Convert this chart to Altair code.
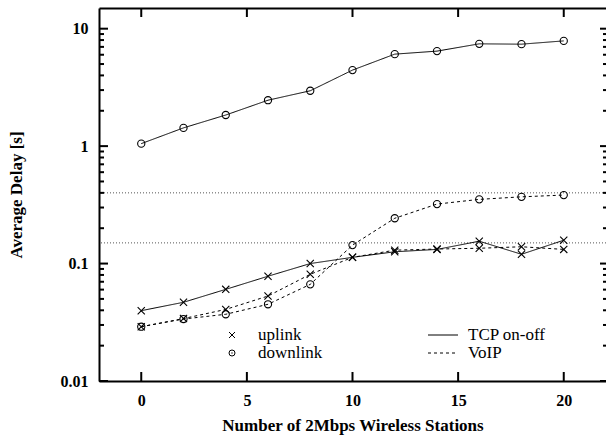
import altair as alt
import pandas as pd

# Number of 2 Mbps wireless stations
stations = [0, 2, 4, 6, 8, 10, 12, 14, 16, 18, 20]

# Average delay [s] per traffic type and direction
tcp_uplink = [0.0397, 0.0468, 0.0603, 0.078, 0.100, 0.113, 0.126, 0.132, 0.155, 0.120, 0.158]
tcp_downlink = [1.05, 1.43, 1.84, 2.46, 2.96, 4.44, 6.07, 6.44, 7.43, 7.38, 7.87]
voip_uplink = [0.029, 0.034, 0.0407, 0.0529, 0.081, 0.113, 0.130, 0.133, 0.135, 0.139, 0.132]
voip_downlink = [0.029, 0.0337, 0.037, 0.045, 0.0665, 0.1436, 0.243, 0.321, 0.352, 0.370, 0.383]

# Delay bounds drawn as dotted horizontal lines
thresholds = [0.4, 0.15]

# Axis ticks
x_ticks = [0, 5, 10, 15, 20]
y_major = [0.01, 0.1, 1, 10]
y_minor = [0.02, 0.03, 0.04, 0.05, 0.06, 0.07, 0.08, 0.09,
           0.2, 0.3, 0.4, 0.5, 0.6, 0.7, 0.8, 0.9,
           2, 3, 4, 5, 6, 7, 8, 9]

traffic_types = ["TCP on-off", "VoIP"]
directions = ["uplink", "downlink"]

rows = []
for traffic, direction, values in [
    ("TCP on-off", "uplink", tcp_uplink),
    ("TCP on-off", "downlink", tcp_downlink),
    ("VoIP", "uplink", voip_uplink),
    ("VoIP", "downlink", voip_downlink),
]:
    for s, v in zip(stations, values):
        rows.append({"station": s, "delay": v, "traffic": traffic,
                     "direction": direction, "series": traffic + " " + direction})
df = pd.DataFrame(rows)

W, H = 507, 373
SERIF = "Liberation Serif"
CROSS = "M-1,-1L1,1M-1,1L1,-1"

xs = alt.Scale(domain=[-2, 22], nice=False, zero=False)
ys = alt.Scale(type="log", domain=[0.01, 15], nice=False)

bottom_axis = alt.Axis(
    orient="bottom", values=x_ticks, ticks=False, tickSize=0, grid=False,
    domain=True, domainColor="black", domainWidth=2,
    labelFont=SERIF, labelFontWeight="bold", labelFontSize=16, labelColor="black",
    labelPadding=11, labelFlush=False,
    title="Number of 2Mbps Wireless Stations", titleFont=SERIF, titleFontWeight="bold",
    titleFontSize=17, titleColor="black", titleY=36, titleBaseline="top",
)
left_axis = alt.Axis(
    orient="left", values=y_major, format="~g", ticks=False, tickSize=0, grid=False,
    domain=True, domainColor="black", domainWidth=2,
    labelFont=SERIF, labelFontWeight="bold", labelFontSize=16, labelColor="black",
    labelPadding=11, labelFlush=False,
    title="Average Delay [s]", titleFont=SERIF, titleFontWeight="bold",
    titleFontSize=17, titleColor="black", titleX=-83, titleY=H / 2,
    titleAngle=270, titleBaseline="middle", titleAlign="center",
)
top_axis = alt.Axis(orient="top", labels=False, ticks=False, tickSize=0, grid=False,
                    domain=True, domainColor="black", domainWidth=2, title=None)

dash_scale = alt.Scale(domain=traffic_types, range=[[1, 0], [3, 3]])
shape_scale = alt.Scale(domain=directions, range=[CROSS, "circle"])

lines = alt.Chart(df).mark_line(color="black", strokeWidth=1).encode(
    x=alt.X("station:Q", scale=xs, axis=bottom_axis),
    y=alt.Y("delay:Q", scale=ys, axis=left_axis),
    strokeDash=alt.StrokeDash("traffic:N", scale=dash_scale, legend=None),
    detail="series:N",
)

points = alt.Chart(df).mark_point(color="black", filled=False, size=52,
                                  strokeWidth=1.1, opacity=1).encode(
    x=alt.X("station:Q", scale=xs, axis=None),
    y=alt.Y("delay:Q", scale=ys, axis=None),
    shape=alt.Shape("direction:N", scale=shape_scale, legend=None),
)

bounds = alt.Chart(pd.DataFrame({"delay": thresholds})).mark_rule(
    color="#555555", strokeWidth=1, strokeDash=[1, 2]
).encode(y=alt.Y("delay:Q", scale=ys, axis=None))

# Inward-pointing tick marks on all four sides
xtick_df = pd.DataFrame({"station": x_ticks})
xticks_bottom = alt.Chart(xtick_df).mark_rule(color="black", strokeWidth=2).encode(
    x=alt.X("station:Q", scale=xs, axis=None), y=alt.value(H), y2=alt.value(H - 9))
xticks_top = alt.Chart(xtick_df).mark_rule(color="black", strokeWidth=2).encode(
    x=alt.X("station:Q", scale=xs, axis=top_axis), y=alt.value(0), y2=alt.value(9))

ymaj_df = pd.DataFrame({"delay": y_major})
ymin_df = pd.DataFrame({"delay": y_minor})


def ytick_layer(data, x0, x1):
    return alt.Chart(data).mark_rule(color="black", strokeWidth=2).encode(
        y=alt.Y("delay:Q", scale=ys, axis=None), x=alt.value(x0), x2=alt.value(x1))


yticks = [
    ytick_layer(ymaj_df, 0, 9),
    ytick_layer(ymin_df, 0, 5),
    ytick_layer(ymaj_df, W, W - 6),
    ytick_layer(ymin_df, W, W - 3),
]

# Key: marker shapes for direction, line styles for traffic type
one = pd.DataFrame({"k": [0]})


def key_text(label, x, y):
    return alt.Chart(pd.DataFrame({"t": [label]})).mark_text(
        align="left", baseline="alphabetic", font=SERIF, fontSize=17, color="black"
    ).encode(x=alt.value(x), y=alt.value(y), text="t:N")


key = [
    alt.Chart(one).mark_point(shape=CROSS, size=36, filled=False, color="black",
                              strokeWidth=1, opacity=1).encode(
        x=alt.value(133), y=alt.value(327)),
    alt.Chart(one).mark_point(shape="circle", size=36, filled=False, color="black",
                              strokeWidth=1, opacity=1).encode(
        x=alt.value(133), y=alt.value(345)),
    alt.Chart(one).mark_point(shape="circle", size=2, filled=True, color="black",
                              opacity=1).encode(
        x=alt.value(133), y=alt.value(345)),
    key_text(directions[0], 159, 332),
    key_text(directions[1], 159, 350),
    alt.Chart(one).mark_rule(color="black", strokeWidth=1).encode(
        x=alt.value(329), x2=alt.value(359), y=alt.value(327)),
    alt.Chart(one).mark_rule(color="black", strokeWidth=1, strokeDash=[3, 3]).encode(
        x=alt.value(329), x2=alt.value(359), y=alt.value(345)),
    key_text(traffic_types[0], 369, 332),
    key_text(traffic_types[1], 369, 350),
]

chart = alt.layer(
    bounds, lines, points, xticks_bottom, xticks_top, *yticks, *key
).resolve_axis(x="independent", y="independent").properties(
    width=W, height=H,
    autosize=alt.AutoSizeParams(type="none"),
    padding={"left": 99, "top": 8, "right": 0, "bottom": 58},
).configure_view(stroke=None)

chart.save("out.html", embed_options={"renderer": "svg", "actions": False})
